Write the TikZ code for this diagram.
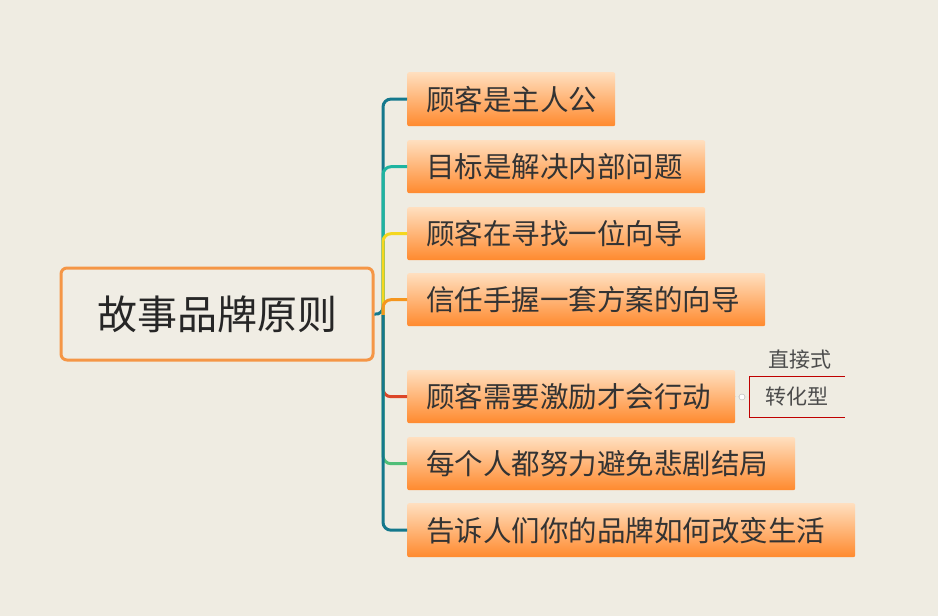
\documentclass[tikz,border=0pt]{standalone}
\usepackage{fontspec}
\setmainfont{Noto Sans CJK SC}
\begin{document}
\begin{tikzpicture}[x=1pt,y=-1pt,
  br/.style={rounded corners=2pt,top color=orange!25!white,bottom color=orange!80!white!90!red,draw=none,anchor=north west,inner sep=0pt,text=black!80,font=\fontsize{28.5}{28.5}\selectfont,align=left},
  conn/.style={line width=3pt,rounded corners=8pt}]
\fill[fill={rgb,255:red,239;green,236;blue,226}] (0,0) rectangle (938,616);
\useasboundingbox (0,0) rectangle (938,616);
\node[draw={rgb,255:red,245;green,150;blue,70},line width=3pt,rounded corners=6pt,fill={rgb,255:red,240;green,237;blue,228},minimum width=312,minimum height=92,font=\fontsize{40}{40}\selectfont,text=black!85] (root) at (217,314) {故事品牌原则};
\coordinate (hub) at (383,315);
\foreach \n/\xa/\ya/\xb/\yb/\t in {
 a/407/72/615/126/顾客是主人公,
 b/407/140/705/193/目标是解决内部问题,
 c/407/207/705/260/顾客在寻找一位向导,
 d/407/273/765/326/信任手握一套方案的向导,
 e/407/370/735/423/顾客需要激励才会行动,
 f/407/437/795/490/每个人都努力避免悲剧结局,
 g/407/503/855/557/告诉人们你的品牌如何改变生活}{
  \node[br,minimum width=\xb-\xa,minimum height=\yb-\ya,text width=\xb-\xa-12] (\n) at (\xa,\ya) {\hspace*{13pt}\t};
}
\definecolor{c1}{RGB}{20,120,140}
\definecolor{c2}{RGB}{30,180,160}
\definecolor{c3}{RGB}{245,215,30}
\definecolor{c4}{RGB}{245,150,30}
\definecolor{c5}{RGB}{220,70,40}
\definecolor{c6}{RGB}{80,190,120}
\draw[conn,c1] (root.east) -- (hub) -- (383,99) -- (a.west);
\draw[conn,c2] (hub) |- (b.west);
\draw[conn,c3] (hub) |- (c.west);
\draw[conn,c4] (hub) |- (d.west);
\draw[conn,c5] (hub) |- (e.west);
\draw[conn,c6] (hub) |- (f.west);
\draw[conn,c1] (hub) |- (g.west);
\node[font=\fontsize{21}{21}\selectfont,text=black!70] (s1) at (800,360) {直接式};
\node[font=\fontsize{21}{21}\selectfont,text=black!70,minimum width=95,minimum height=40] (s2) at (797,397) {转化型};
\draw[red!75!black,line width=0.8pt] (s2.north east) -- (s2.north west) -- (s2.south west) -- (s2.south east);
\node[circle,draw=gray!60,fill=white,inner sep=0pt,minimum size=6] (k) at (742,397) {};
\draw[gray!60,densely dotted] (e.east) -- (k) -- (s2.west);
\end{tikzpicture}
\end{document}
